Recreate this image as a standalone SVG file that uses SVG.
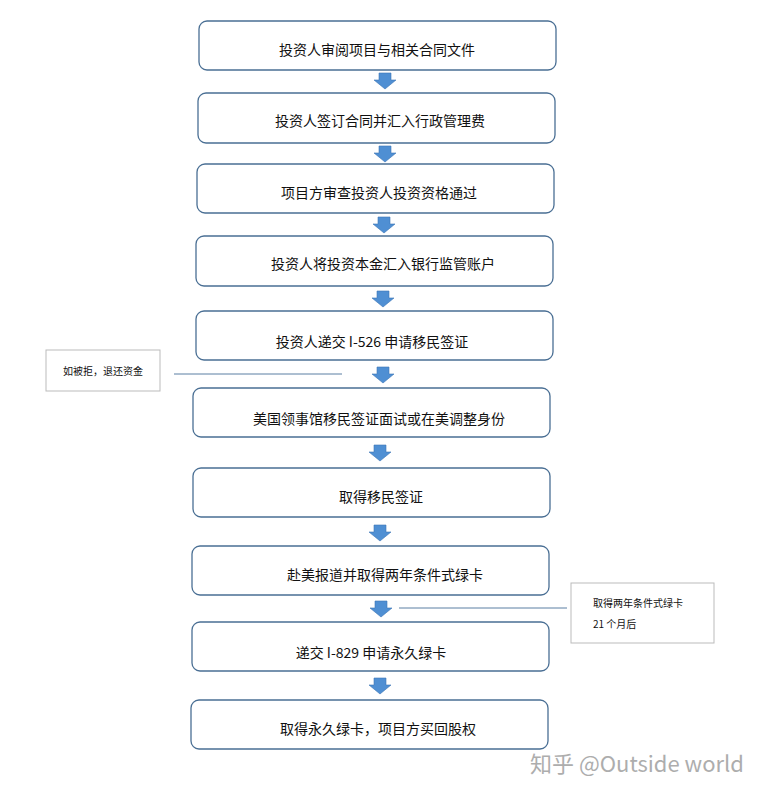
<svg xmlns="http://www.w3.org/2000/svg" width="766" height="795" viewBox="0 0 766 795">
<style>
.n{fill:#fff;stroke:#4a6f94;stroke-width:1.3}
.t{font-family:"Noto Sans CJK SC",sans-serif;font-size:14px;fill:#111;text-anchor:middle}
.s{font-family:"Noto Sans CJK SC",sans-serif;font-size:10px;fill:#111}
.a{fill:#4f8fd3;stroke:#3d76b5;stroke-width:0.6}
.nb{fill:#fff;stroke:#bbb;stroke-width:1}
.l{stroke:#5a7fa3;stroke-width:1}
</style>
<rect width="766" height="795" fill="#fff"/>
<defs><path id="ar" class="a" d="M-6,0H6V7H11L0,16L-11,7H-6Z"/></defs>
<g id="n1"><rect class="n" x="199" y="21" width="357" height="49" rx="8"/><text class="t" x="377" y="55">投资人审阅项目与相关合同文件</text></g>
<g id="n2"><rect class="n" x="198" y="93" width="357" height="50" rx="8"/><text class="t" x="380" y="126">投资人签订合同并汇入行政管理费</text></g>
<g id="n3"><rect class="n" x="197" y="164" width="357" height="49" rx="8"/><text class="t" x="379" y="198">项目方审查投资人投资资格通过</text></g>
<g id="n4"><rect class="n" x="196" y="236" width="357" height="50" rx="8"/><text class="t" x="383" y="269">投资人将投资本金汇入银行监管账户</text></g>
<g id="n5"><rect class="n" x="196" y="311" width="357" height="49" rx="8"/><text class="t" x="372" y="347">投资人递交 I-526 申请移民签证</text></g>
<g id="n6"><rect class="n" x="193" y="388" width="357" height="49" rx="8"/><text class="t" x="379" y="424">美国领事馆移民签证面试或在美调整身份</text></g>
<g id="n7"><rect class="n" x="193" y="468" width="357" height="49" rx="8"/><text class="t" x="381" y="502">取得移民签证</text></g>
<g id="n8"><rect class="n" x="192" y="546" width="357" height="49" rx="8"/><text class="t" x="385" y="580">赴美报道并取得两年条件式绿卡</text></g>
<g id="n9"><rect class="n" x="192" y="622" width="357" height="49" rx="8"/><text class="t" x="371" y="658">递交 I-829 申请永久绿卡</text></g>
<g id="n10"><rect class="n" x="191" y="700" width="357" height="49" rx="8"/><text class="t" x="378" y="734">取得永久绿卡，项目方买回股权</text></g>
<g id="note1"><rect class="nb" x="46" y="350" width="114" height="41"/><text class="s" x="63" y="375">如被拒，退还资金</text></g>
<g id="note2"><rect class="nb" x="571" y="583" width="143" height="60"/><text class="s" x="593" y="607">取得两年条件式绿卡</text><text class="s" x="593" y="628">21 个月后</text></g>
<g id="connectors">
<use href="#ar" x="385" y="73"/>
<use href="#ar" x="385" y="146"/>
<use href="#ar" x="384" y="217"/>
<use href="#ar" x="383" y="291"/>
<use href="#ar" x="383" y="367"/>
<use href="#ar" x="380" y="445"/>
<use href="#ar" x="380" y="525"/>
<use href="#ar" x="381" y="601"/>
<use href="#ar" x="380" y="678"/>
<line class="l" x1="174" y1="374" x2="342" y2="374"/>
<line class="l" x1="399" y1="608" x2="567" y2="608"/>
</g>
<text x="530" y="772" font-family="Noto Sans CJK SC,sans-serif" font-size="22" fill="#999" opacity="0.8">知乎 @Outside world</text>
</svg>
